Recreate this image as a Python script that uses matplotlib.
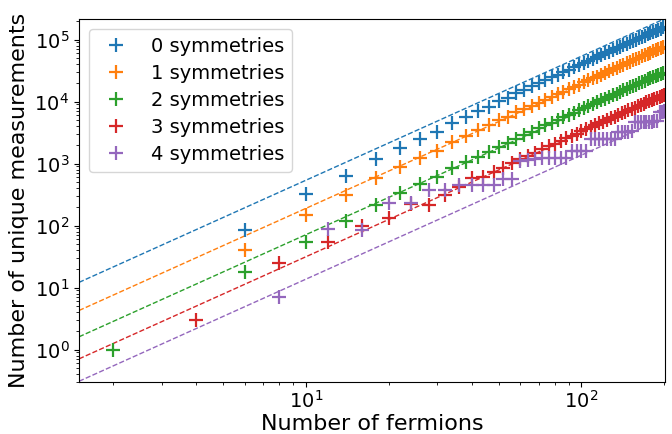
import numpy as np
import matplotlib
matplotlib.use("Agg")
import matplotlib.pyplot as plt

labels = ["0 symmetries", "1 symmetries", "2 symmetries", "3 symmetries", "4 symmetries"]
colors = ["#1f77b4", "#ff7f0e", "#2ca02c", "#d62728", "#9467bd"]

# fermion counts per series
n0 = list(range(6, 199, 4))
n1 = list(range(6, 199, 4))
n2 = list(range(2, 199, 4))
n3 = list(range(4, 201, 4))
n4 = list(range(8, 201, 4))

y0 = [85, 321, 633, 1190, 1810, 2500, 3270, 4570, 5710, 7060, 8280, 10100, 11300, 13600,
      15400, 17600, 19900, 22200, 24600, 27300, 30000, 32900, 35800, 38900, 42100, 45400,
      48900, 52500, 56200, 60000, 64000, 68000, 72300, 76700, 81200, 85800, 90500, 95400,
      100400, 105500, 110700, 116000, 121500, 127100, 132900, 138800, 144800, 150900, 157000]
y1 = [41, 149, 313, 582, 895, 1220, 1620, 2270, 2790, 3490, 4200, 5040, 5710, 6880,
      7600, 8600, 9650, 10800, 12000, 13200, 14500, 15900, 17300, 18800, 20400, 22000,
      23700, 25400, 27300, 29100, 31100, 33100, 35100, 37200, 39400, 41700, 44000, 46300,
      48800, 51300, 53800, 56500, 59100, 61900, 64700, 67600, 70500, 73500, 76500]
y2 = [1, 18, 55, 119, 211, 334, 466, 618, 843, 1077, 1297, 1560, 1840, 2130, 2500,
      2900, 3290, 3700, 4130, 4590, 5070, 5580, 6110, 6660, 7230, 7830, 8460, 9110, 9780,
      10470, 11190, 11930, 12710, 13500, 14310, 15150, 16020, 16910, 17820, 18750, 19710,
      20700, 21710, 22740, 23790, 24870, 25980, 27110, 28260, 29400]
y3 = [3, 25, 55, 100, 132, 224, 216, 313, 417, 582, 603, 743, 843, 1015, 1190,
      1320, 1500, 1690, 1890, 2100, 2320, 2550, 2790, 3040, 3300, 3570, 3850, 4140, 4440,
      4750, 5070, 5400, 5740, 6090, 6450, 6820, 7200, 7590, 7990, 8400, 8820, 9250, 9690,
      10140, 10600, 11060, 11530, 12000, 12400, 12800]
y4 = [7, 88, 86, 230, 230, 377, 380, 450, 455, 455, 460, 570, 570, 1100, 1150,
      1200, 1210, 1210, 1220, 1220, 1230, 1580, 1590, 1590, 1600, 2480, 2500, 2500, 2510,
      2510, 2520, 2520, 3270, 3280, 3280, 3290, 3300, 4650, 4700, 4700, 4720, 4740, 4750,
      4760, 4780, 4800, 6800, 6900, 7000]

xs = [n0, n1, n2, n3, n4]
ys = [y0, y1, y2, y3, y4]

# dashed power-law guide lines: coef * n**exp
fit_coef = [5.4, 1.9, 0.715, 0.315, 0.137]
fit_exp = [2.0, 2.0, 2.0, 2.0, 2.0]

xlim = (1.5, 201)
ylim = (0.3, 2.15e5)

fig = plt.figure(figsize=(6.72, 4.34), dpi=100)
ax = fig.add_subplot(111)
fig.subplots_adjust(left=0.1176, right=0.9896, top=0.9562, bottom=0.1198)

xf = np.geomspace(xlim[0], xlim[1], 200)
for c, e, col in zip(fit_coef, fit_exp, colors):
    ax.plot(xf, c * xf ** e, "--", color=col, lw=1.0)

for x, y, col, lab in zip(xs, ys, colors, labels):
    ax.plot(x, y, linestyle="none", marker="+", markersize=10, mew=1.6, color=col, label=lab)

ax.set_xscale("log")
ax.set_yscale("log")
ax.set_xlim(*xlim)
ax.set_ylim(*ylim)
ax.tick_params(labelsize=14)
ax.tick_params(axis="x", pad=2.5)
ax.set_xlabel("Number of fermions", fontsize=16, labelpad=1)
ax.set_ylabel("Number of unique measurements", fontsize=16)
ax.legend(loc="upper left", fontsize=14, labelspacing=0.42)

fig.savefig("out.png", dpi=100)
